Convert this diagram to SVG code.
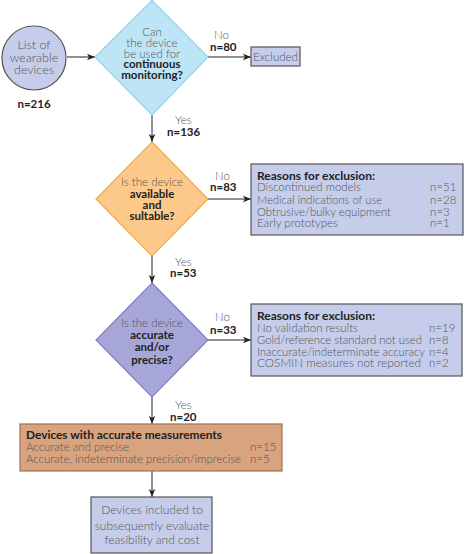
<svg xmlns="http://www.w3.org/2000/svg" width="465" height="554" viewBox="0 0 465 554">
<style>
.r{font-family:Lato,"Open Sans","Liberation Sans",sans-serif;font-size:11.5px;font-weight:300;fill:#555;}
.b{font-family:Lato,"Open Sans","Liberation Sans",sans-serif;font-size:11.5px;font-weight:bold;fill:#222;}
.c{text-anchor:middle;}
.ln{stroke:#222;stroke-width:1;fill:none;}
.box{fill:#c5cdea;stroke:#555;stroke-width:1.2;}
</style>
<defs>
<marker id="ah" viewBox="0 0 10 10" refX="10" refY="5" markerWidth="8" markerHeight="8" markerUnits="userSpaceOnUse" orient="auto">
<path d="M0,1 L10,5 L0,9 L2.5,5 Z" fill="#222"/>
</marker>
</defs>
<rect width="465" height="554" fill="#fff"/>
<g id="connectors">
<line class="ln" x1="67" y1="57" x2="95" y2="57" marker-end="url(#ah)"/>
<line class="ln" x1="208" y1="57" x2="251" y2="57" marker-end="url(#ah)"/>
<line class="ln" x1="152" y1="115" x2="152" y2="142" marker-end="url(#ah)"/>
<line class="ln" x1="208" y1="199" x2="251" y2="199" marker-end="url(#ah)"/>
<line class="ln" x1="152" y1="256" x2="152" y2="283" marker-end="url(#ah)"/>
<line class="ln" x1="208" y1="340" x2="251" y2="340" marker-end="url(#ah)"/>
<line class="ln" x1="152" y1="397" x2="152" y2="424" marker-end="url(#ah)"/>
<line class="ln" x1="152" y1="471" x2="152" y2="497" marker-end="url(#ah)"/>
<text class="r" x="214" y="39">No</text>
<text class="b" x="210" y="51">n=80</text>
<text class="r" x="175" y="124">Yes</text>
<text class="b" x="167" y="136">n=136</text>
<text class="r" x="215" y="180">No</text>
<text class="b" x="210" y="191">n=83</text>
<text class="r" x="175" y="266">Yes</text>
<text class="b" x="170" y="277">n=53</text>
<text class="r" x="215" y="321">No</text>
<text class="b" x="210" y="334">n=33</text>
<text class="r" x="175" y="409">Yes</text>
<text class="b" x="170" y="421">n=20</text>
</g>
<g id="start">
<circle cx="34" cy="58" r="32" fill="#c5cdea" stroke="#555" stroke-width="1.2"/>
<text class="r c" x="34" y="49" style="font-size:12.5px">List of</text>
<text class="r c" x="34" y="61.5" style="font-size:12.5px">wearable</text>
<text class="r c" x="34" y="74" style="font-size:12.5px">devices</text>
<text class="b c" x="34" y="108">n=216</text>
</g>
<g id="q1">
<polygon points="152,0.5 208,57 152,115 95,57" fill="#bde5f5" stroke="#8fd3f0" stroke-width="1.2"/>
<text class="r c" x="152" y="36">Can</text>
<text class="r c" x="152" y="47">the device</text>
<text class="r c" x="152" y="57.5">be used for</text>
<text class="b c" x="152" y="68">continuous</text>
<text class="b c" x="152" y="79">monitoring?</text>
</g>
<g id="excluded">
<rect class="box" x="251" y="47" width="49" height="19"/>
<text class="r" x="253" y="61" textLength="45" lengthAdjust="spacingAndGlyphs">Excluded</text>
</g>
<g id="q2">
<polygon points="152,142 208,199 152,256 96,199" fill="#fcc98a" stroke="#f5a94e" stroke-width="1.2"/>
<text class="r c" x="152" y="186">Is the device</text>
<text class="b c" x="152" y="198">available</text>
<text class="b c" x="152" y="209">and</text>
<text class="b c" x="152" y="220">sultable?</text>
</g>
<g id="reasons1">
<rect class="box" x="251" y="164" width="212" height="71"/>
<text class="b" x="257" y="180" textLength="118" lengthAdjust="spacingAndGlyphs">Reasons for exclusion:</text>
<text class="r" x="257" y="191" textLength="104" lengthAdjust="spacingAndGlyphs">Discontinued models</text>
<text class="r" x="430" y="191">n=51</text>
<text class="r" x="257" y="204" textLength="125" lengthAdjust="spacingAndGlyphs">Medical indications of use</text>
<text class="r" x="430" y="204">n=28</text>
<text class="r" x="257" y="216" textLength="134" lengthAdjust="spacingAndGlyphs">Obtrusive/bulky equipment</text>
<text class="r" x="430" y="216">n=3</text>
<text class="r" x="257" y="227" textLength="81" lengthAdjust="spacingAndGlyphs">Early prototypes</text>
<text class="r" x="430" y="227">n=1</text>
</g>
<g id="q3">
<polygon points="152,283 208,340 152,397 96,340" fill="#a6a6d8" stroke="#8080c0" stroke-width="1.2"/>
<text class="r c" x="152" y="327">Is the device</text>
<text class="b c" x="152" y="339">accurate</text>
<text class="b c" x="152" y="351">and/or</text>
<text class="b c" x="152" y="364">precise?</text>
</g>
<g id="reasons2">
<rect class="box" x="251" y="304" width="211" height="72"/>
<text class="b" x="257" y="320" textLength="118" lengthAdjust="spacingAndGlyphs">Reasons for exclusion:</text>
<text class="r" x="257" y="332" textLength="101" lengthAdjust="spacingAndGlyphs">No validation results</text>
<text class="r" x="429" y="332">n=19</text>
<text class="r" x="257" y="344" textLength="165" lengthAdjust="spacingAndGlyphs">Gold/reference standard not used</text>
<text class="r" x="429" y="344">n=8</text>
<text class="r" x="257" y="356" textLength="168" lengthAdjust="spacingAndGlyphs">Inaccurate/indeterminate accuracy</text>
<text class="r" x="429" y="356">n=4</text>
<text class="r" x="257" y="367" textLength="164" lengthAdjust="spacingAndGlyphs">COSMIN measures not reported</text>
<text class="r" x="429" y="367">n=2</text>
</g>
<g id="accurate">
<rect x="20" y="424" width="262" height="47" fill="#d8a37f" stroke="#a07050" stroke-width="1.2"/>
<text class="b" x="26" y="439" textLength="196" lengthAdjust="spacingAndGlyphs">Devices with accurate measurements</text>
<text class="r" x="26" y="451" textLength="103" lengthAdjust="spacingAndGlyphs">Accurate and precise</text>
<text class="r" x="250" y="451">n=15</text>
<text class="r" x="26" y="463" textLength="215" lengthAdjust="spacingAndGlyphs">Accurate, indeterminate precision/imprecise</text>
<text class="r" x="250" y="463">n=5</text>
</g>
<g id="included">
<rect class="box" x="91" y="497" width="121" height="56"/>
<text class="r c" x="152" y="514" style="font-size:12px">Devices included to</text>
<text class="r c" x="152" y="530" style="font-size:12px">subsequently evaluate</text>
<text class="r c" x="152" y="544" style="font-size:12px">feasibility and cost</text>
</g>
</svg>
